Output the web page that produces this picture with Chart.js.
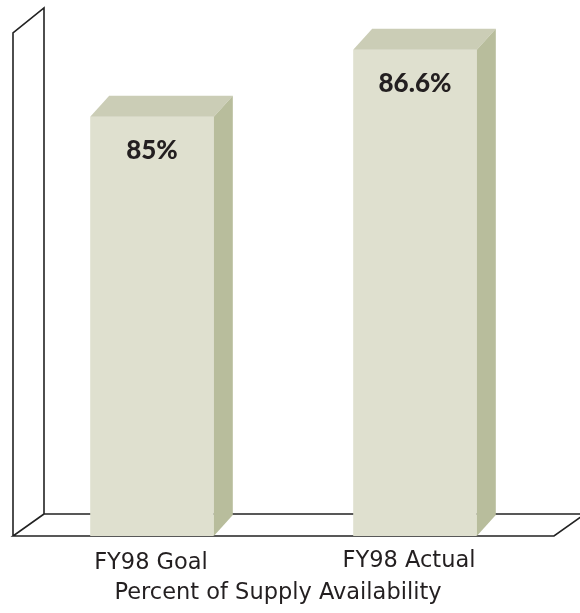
<!DOCTYPE html>
<html>
<head>
<meta charset="utf-8">
<script src="https://cdn.jsdelivr.net/npm/chart.js@4.4.1/dist/chart.umd.min.js"></script>
<style>
    html, body { margin: 0; padding: 0; background: #fff; }
    #wrap { width: 580px; height: 613px; }
</style>
</head>
<body>
<div id="wrap"><canvas id="supply"></canvas></div>
<script>
const categories = ['FY98 Goal', 'FY98 Actual'];
const availability = [85, 86.6];
const valueLabels = ['85%', '86.6%'];
const axisTitle = 'Percent of Supply Availability';

const LABEL_FONT = '"DejaVu Sans", sans-serif';
const VALUE_FONT = 'Lato, "Open Sans", sans-serif';
const DEPTH_X = 19, DEPTH_Y = 21;

// side wall and floor outline, drawn behind the bars
const frame = {
    id: 'frame',
    beforeDatasetsDraw(chart) {
        const { ctx, chartArea: a } = chart;
        const fx = a.left - 7.5, bx = fx + 31;
        const backTop = a.top - 25, backFloor = a.bottom - 22;
        const rx = a.right + 7.5;
        ctx.save();
        ctx.strokeStyle = '#222222';
        ctx.lineWidth = 1.6;
        ctx.beginPath();
        // wall
        ctx.moveTo(fx, a.bottom);
        ctx.lineTo(fx, a.top);
        ctx.lineTo(bx, backTop);
        ctx.lineTo(bx, backFloor);
        // floor
        ctx.lineTo(rx + 31, backFloor);
        ctx.moveTo(bx, backFloor);
        ctx.lineTo(fx, a.bottom);
        ctx.lineTo(rx, a.bottom);
        ctx.lineTo(rx + 31, backFloor);
        ctx.stroke();
        ctx.restore();
    }
};

// top and side faces of each bar, plus the value label
const bars3d = {
    id: 'bars3d',
    afterDatasetsDraw(chart) {
        const { ctx } = chart;
        const base = chart.scales.y.getPixelForValue(chart.scales.y.min);
        chart.getDatasetMeta(0).data.forEach((bar, i) => {
            const l = bar.x - bar.width / 2, r = bar.x + bar.width / 2, t = bar.y;
            ctx.save();
            ctx.fillStyle = '#cbcdb6';
            ctx.beginPath();
            ctx.moveTo(l, t);
            ctx.lineTo(l + DEPTH_X, t - DEPTH_Y);
            ctx.lineTo(r + DEPTH_X, t - DEPTH_Y);
            ctx.lineTo(r, t);
            ctx.closePath();
            ctx.fill();
            ctx.fillStyle = '#b8bd9c';
            ctx.beginPath();
            ctx.moveTo(r, t);
            ctx.lineTo(r + DEPTH_X, t - DEPTH_Y);
            ctx.lineTo(r + DEPTH_X, base - DEPTH_Y);
            ctx.lineTo(r, base);
            ctx.closePath();
            ctx.fill();

            ctx.fillStyle = '#231f20';
            ctx.font = '900 26px ' + VALUE_FONT;
            ctx.textAlign = 'center';
            ctx.textBaseline = 'alphabetic';
            ctx.fillText(valueLabels[i], bar.x, t + 42);
            ctx.restore();
        });
    }
};

// category names and axis title under the floor
const bottomText = {
    id: 'bottomText',
    afterDraw(chart) {
        const { ctx } = chart;
        const x = chart.scales.x;
        const shift = [-1, -6];
        const baseline = [569, 567];
        ctx.save();
        ctx.fillStyle = '#231f20';
        ctx.font = '22.5px ' + LABEL_FONT;
        ctx.textAlign = 'center';
        categories.forEach((c, i) => {
            ctx.fillText(c, x.getPixelForValue(i) + shift[i], baseline[i]);
        });
        ctx.fillText(axisTitle, 278, 599);
        ctx.restore();
    }
};

new Chart(document.getElementById('supply'), {
    type: 'bar',
    data: {
        labels: categories,
        datasets: [{
            label: 'Supply Availability',
            data: availability,
            backgroundColor: '#dfe0cf',
            borderWidth: 0,
            barPercentage: 0.47,
            categoryPercentage: 1
        }]
    },
    options: {
        responsive: true,
        maintainAspectRatio: false,
        animation: false,
        layout: { padding: { left: 20.5, right: 33.5, top: 33, bottom: 77 } },
        scales: {
            x: { display: false },
            y: { display: false, min: 75, max: 87 }
        },
        plugins: {
            legend: { display: false },
            tooltip: { enabled: false }
        }
    },
    plugins: [frame, bars3d, bottomText]
});
</script>
</body>
</html>
